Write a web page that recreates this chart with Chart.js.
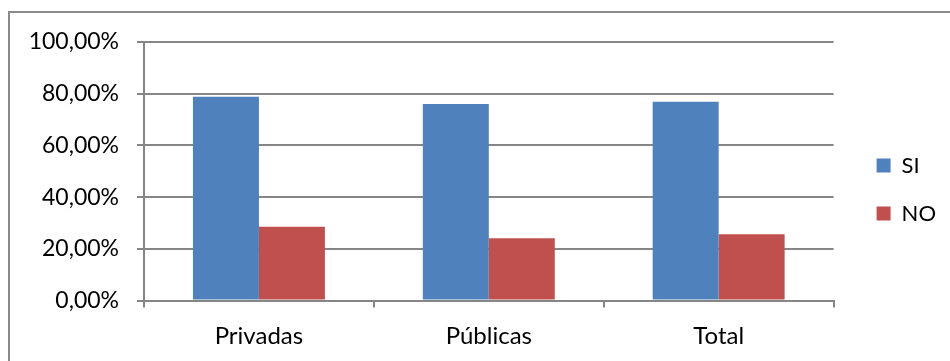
<!DOCTYPE html>
<html>
<head>
<meta charset="utf-8">
<script src="https://cdn.jsdelivr.net/npm/chart.js@4/dist/chart.umd.min.js"></script>
<style>
  html, body { margin: 0; padding: 0; background: #fff; }
  #wrap { position: relative; width: 950px; height: 361px; overflow: hidden; }
  #frame { position: absolute; left: 8px; top: 11px; width: 1000px; height: 400px;
           border-left: 2px solid #8a8a8a; border-top: 2px solid #8a8a8a; }
  canvas { position: absolute; left: 0; top: 0; }
</style>
</head>
<body>
<div id="wrap">
  <div id="frame"></div>
  <canvas id="c" width="950" height="361"></canvas>
</div>
<script>
const categories = ["Privadas", "Públicas", "Total"];
const seriesNames = ["SI", "NO"];
const siValues = [0.788, 0.760, 0.769];
const noValues = [0.285, 0.241, 0.256];
const yTicks = [0, 0.2, 0.4, 0.6, 0.8, 1.0];

const gridGray = '#868686';

const shiftLegend = {
  id: 'shiftLegend',
  afterLayout(chart) {
    const lg = chart.legend;
    if (lg) { lg.left += 17; lg.right += 17; }
  }
};

new Chart(document.getElementById('c'), {
  type: 'bar',
  data: {
    labels: categories,
    datasets: [
      { label: seriesNames[0], data: siValues, backgroundColor: '#4F81BD', borderWidth: 0 },
      { label: seriesNames[1], data: noValues, backgroundColor: '#C0504D', borderWidth: 0 }
    ]
  },
  options: {
    responsive: false,
    animation: false,
    devicePixelRatio: 1,
    layout: { padding: { top: 18, right: 21, left: 0, bottom: 0 } },
    datasets: { bar: { categoryPercentage: 0.574, barPercentage: 1.0 } },
    plugins: {
      legend: {
        position: 'right',
        labels: {
          boxWidth: 14, boxHeight: 14, padding: 26,
          color: '#000',
          font: { family: 'Lato', size: 22 }
        }
      },
      tooltip: { enabled: false }
    },
    scales: {
      x: {
        grid: { display: true, drawOnChartArea: false, drawTicks: true, tickLength: 7, color: gridGray, lineWidth: 2 },
        border: { display: true, color: gridGray, width: 2 },
        ticks: { color: '#000', font: { family: 'Lato', size: 24 }, padding: 14 },
        afterFit(s) { s.height = 60.5; }
      },
      y: {
        min: 0, max: 1,
        afterBuildTicks(s) { s.ticks = yTicks.map(v => ({ value: v })); },
        grid: { color: gridGray, lineWidth: 2, tickLength: 7, drawTicks: true },
        border: { display: true, color: gridGray, width: 2 },
        ticks: {
          color: '#000', font: { family: 'Lato', size: 23 }, padding: 18,
          callback: v => (v * 100).toFixed(2).replace('.', ',') + '%'
        },
        afterFit(s) { s.width = 144; s.paddingTop = 42; }
      }
    }
  },
  plugins: [shiftLegend]
});
</script>
</body>
</html>
